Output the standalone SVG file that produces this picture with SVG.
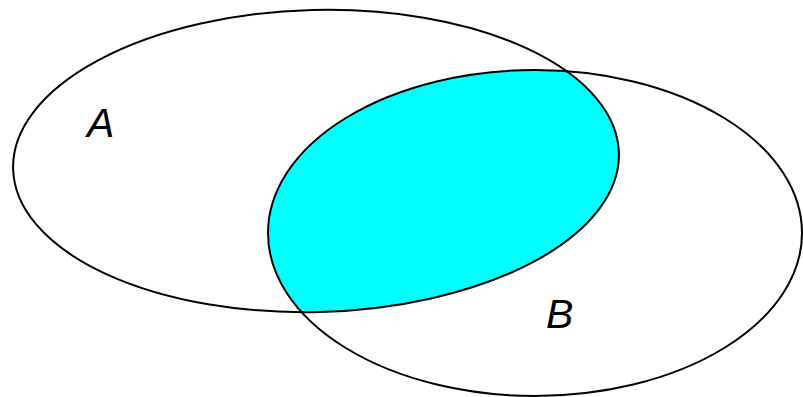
<svg xmlns="http://www.w3.org/2000/svg" width="803" height="397" viewBox="0 0 803 397">
<style>
.set{fill:none;stroke:#000;stroke-width:2}
.lbl{font-family:"Liberation Sans",Arial,sans-serif;font-size:41px;font-style:italic;fill:#000}
</style>
<defs>
<clipPath id="clipA"><ellipse cx="316" cy="161" rx="303" ry="151" transform="rotate(-1.5 316 161)"/></clipPath>
</defs>
<rect width="803" height="397" fill="#fff"/>
<g id="intersection">
<ellipse cx="535" cy="233" rx="267" ry="163" fill="#00ffff" clip-path="url(#clipA)"/>
</g>
<g id="setA">
<ellipse class="set" cx="316" cy="161" rx="303" ry="151" transform="rotate(-1.5 316 161)"/>
<text class="lbl" x="87" y="137">A</text>
</g>
<g id="setB">
<ellipse class="set" cx="535" cy="233" rx="267" ry="163"/>
<text class="lbl" x="546" y="328">B</text>
</g>
</svg>
